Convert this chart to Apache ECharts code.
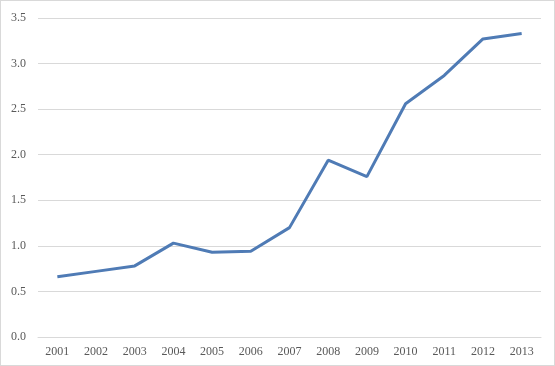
<!DOCTYPE html>
<html><head><meta charset="utf-8">
<script src="https://cdn.jsdelivr.net/npm/echarts@6/dist/echarts.min.js"></script>
<style>html,body{margin:0;padding:0;background:#fff}#c{width:553px;height:364px;border:1px solid #d9d9d9}</style>
</head><body><div id="c"></div>
<script>
var years = ['2001','2002','2003','2004','2005','2006','2007','2008','2009','2010','2011','2012','2013'];
var values = [0.66,0.72,0.78,1.03,0.93,0.94,1.20,1.94,1.76,2.56,2.87,3.27,3.33];
var chart = echarts.init(document.getElementById('c'));
chart.setOption({
  animation:false,
  grid:{left:37,right:13,top:17,bottom:28},
  xAxis:{type:'category',data:years,boundaryGap:true,
    axisLine:{show:true,lineStyle:{color:'#d9d9d9'}},axisTick:{show:false},
    axisLabel:{color:'#595959',fontFamily:'Liberation Serif',fontSize:12,margin:9}},
  yAxis:{type:'value',min:0,max:3.5,interval:0.5,
    axisLine:{show:false},axisTick:{show:false},
    splitLine:{lineStyle:{color:'#d9d9d9'}},
    axisLabel:{color:'#595959',fontFamily:'Liberation Serif',fontSize:12,margin:12,formatter:function(v){return v.toFixed(1);}}},
  series:[{type:'line',data:values,symbol:'none',lineStyle:{color:'#4f7bb5',width:3}}]
});
</script></body></html>
